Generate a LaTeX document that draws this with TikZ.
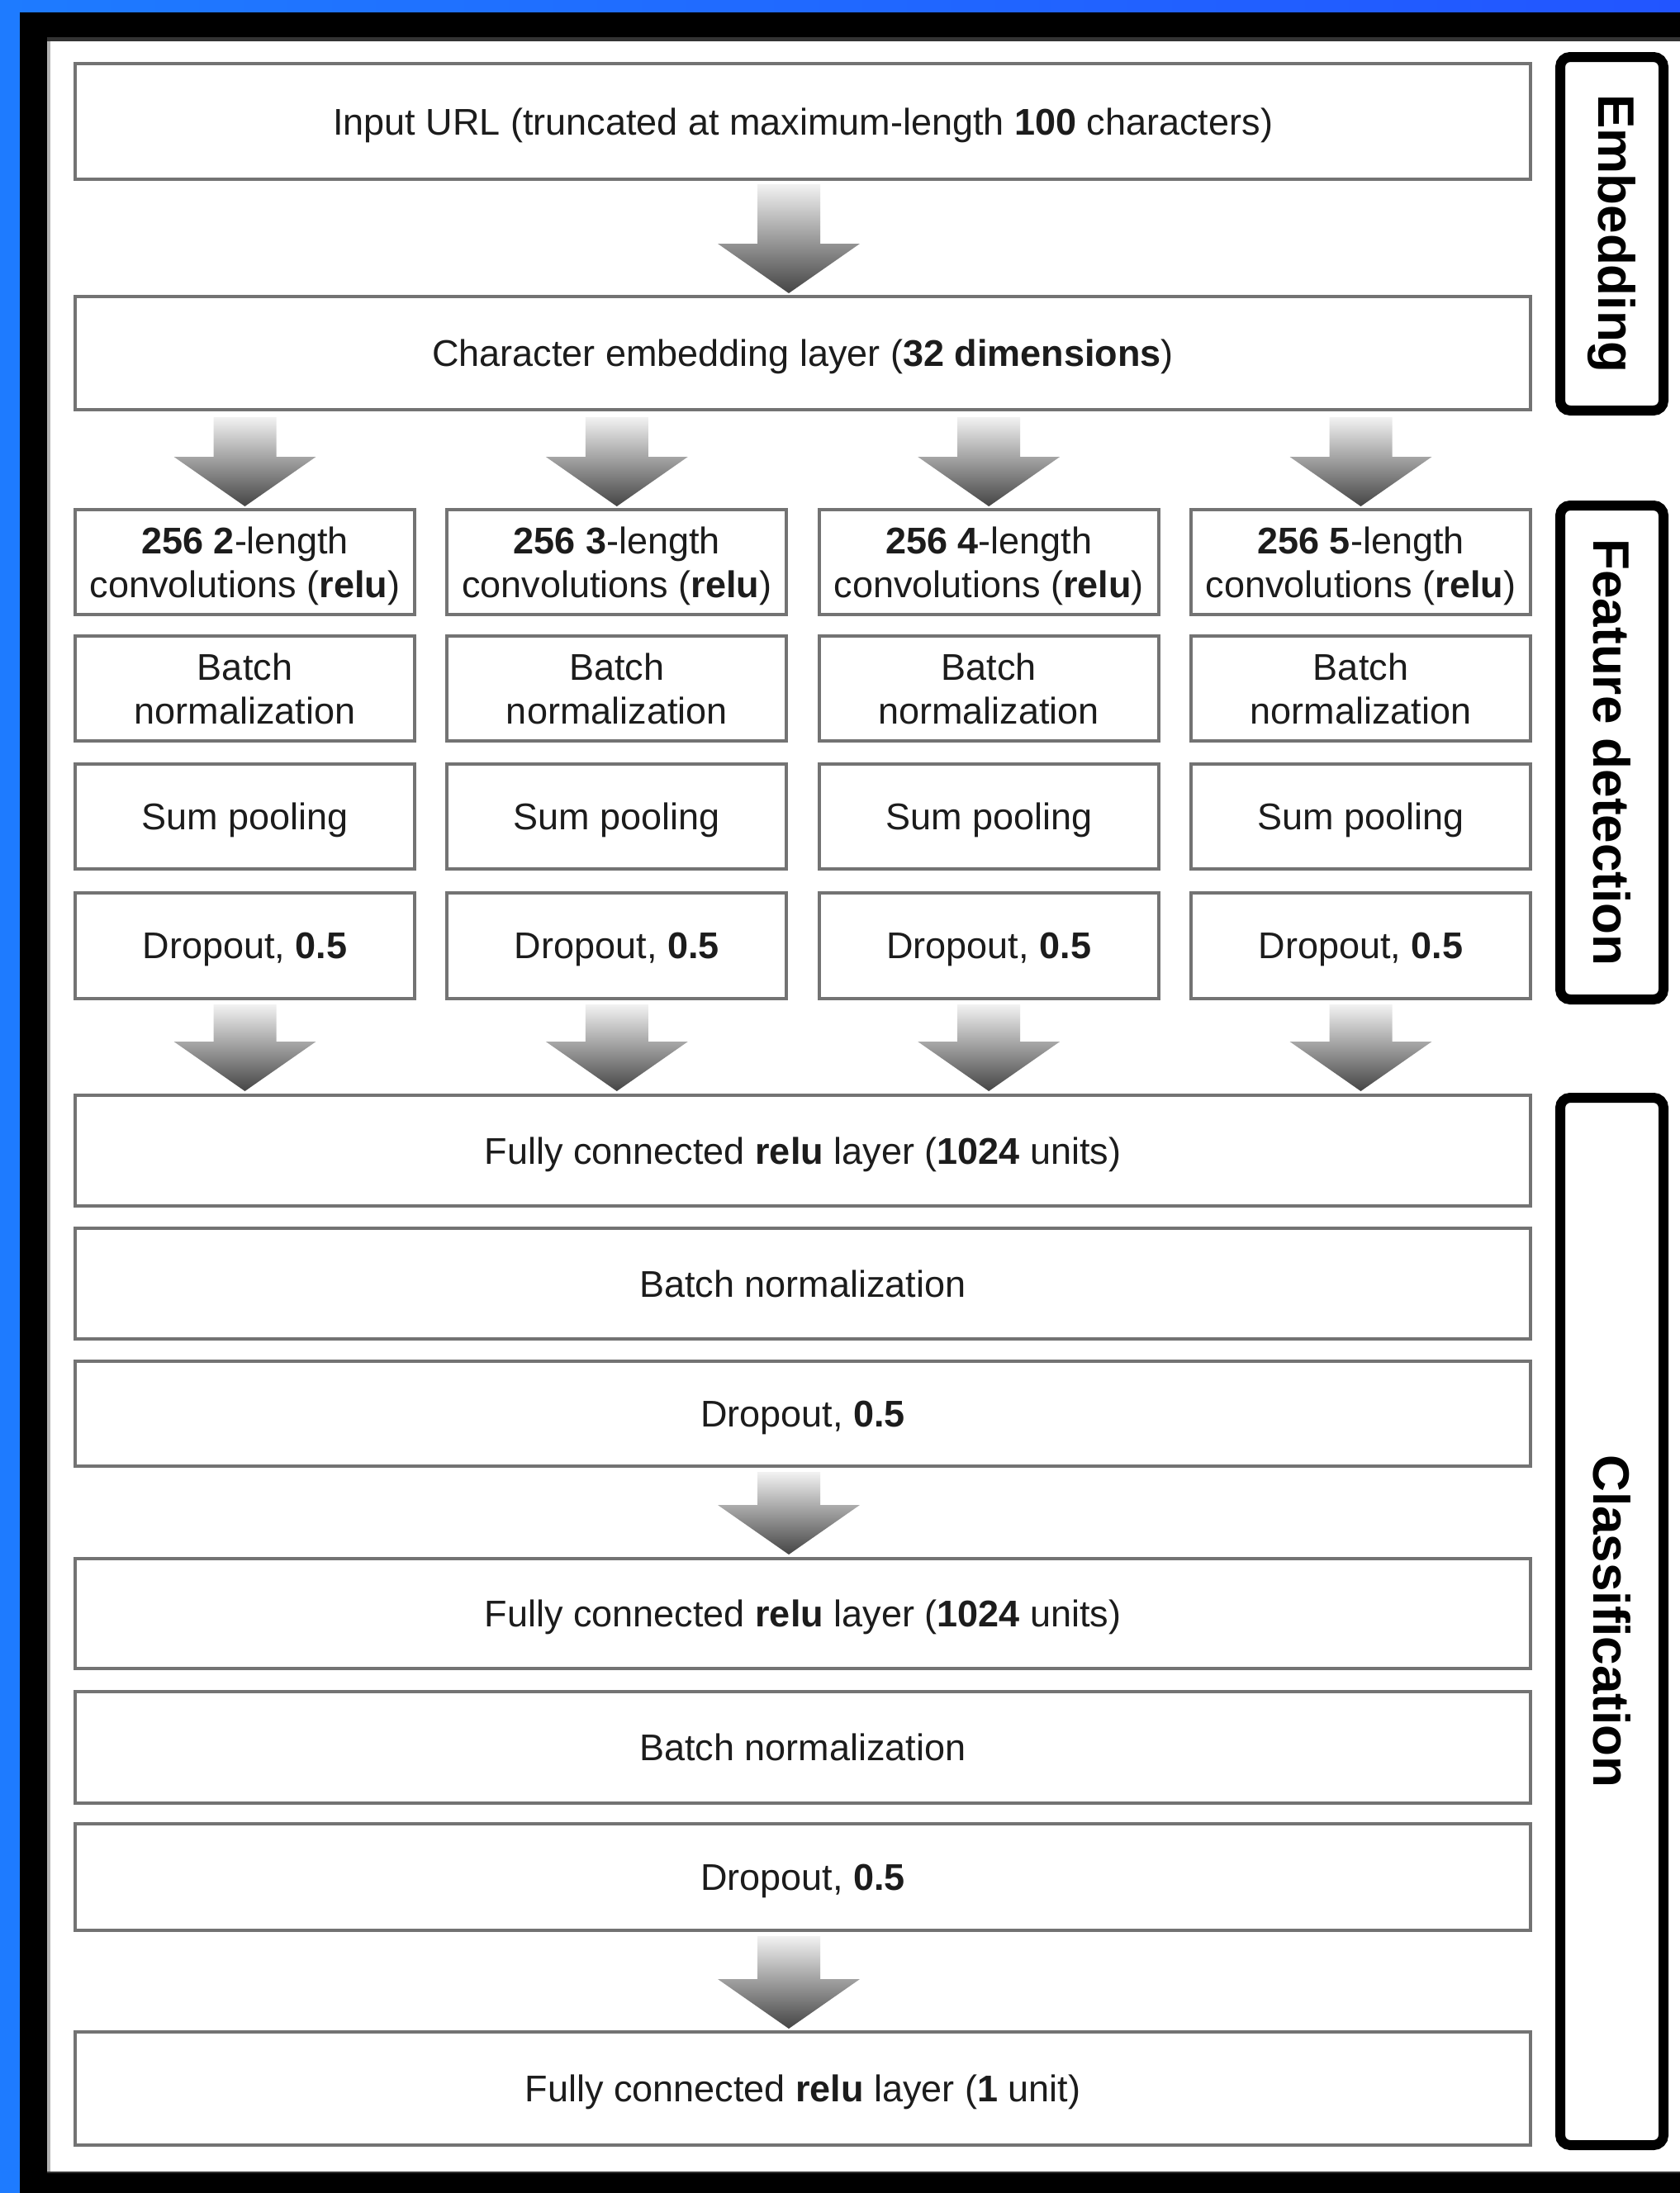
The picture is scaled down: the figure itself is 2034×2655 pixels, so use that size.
\documentclass[tikz,border=0pt]{standalone}
\usepackage{fontspec}
\setmainfont{Liberation Sans}
\usetikzlibrary{calc}

\definecolor{slideblueA}{HTML}{1E7BFF}
\definecolor{slideblueB}{HTML}{2255FF}
\definecolor{paneledge}{HTML}{333333}
\definecolor{boxline}{HTML}{737373}
\definecolor{arrowtop}{HTML}{F2F2F2}
\definecolor{arrowbot}{HTML}{454545}
\definecolor{inktext}{HTML}{1C1C1C}

% shaded block arrow: #1 = top centre of the shaft, #2 = tip
\newcommand\flowarrow[2]{%
  \path #1 coordinate (fa-top) #2 coordinate (fa-tip);
  \shade[top color=arrowtop, bottom color=arrowbot]
    let \p1=(fa-top), \p2=(fa-tip) in
    (\x2-19pt,\y1) -- (\x2+19pt,\y1) -- (\x2+19pt,\y2+30pt) -- (\x2+43pt,\y2+30pt)
    -- (\x2,\y2) -- (\x2-43pt,\y2+30pt) -- (\x2-19pt,\y2+30pt) -- cycle;
}

\tikzset{
  layerbox/.style={draw=boxline, line width=2pt, fill=white, outer sep=0pt,
    inner sep=0pt, align=center, text=inktext, text depth=0pt,
    font=\fontsize{22.5}{26.5}\selectfont},
  widebox/.style={layerbox, minimum width=881pt, minimum height=67pt},
  colbox/.style={layerbox, minimum width=205.5pt, minimum height=63.5pt},
  stagebox/.style={draw=black, line width=6pt, rounded corners=6pt, rotate=-90,
    minimum height=62.5pt, inner sep=0pt, outer sep=0pt, text=black,
    font=\fontsize{31}{36}\selectfont\bfseries},
}

\begin{document}
\begin{tikzpicture}[x=0.5pt, y=-0.5pt]
  \useasboundingbox (0,0) rectangle (2034,2655);

  % slide background, black frame and white panel
  \shade[left color=slideblueA, right color=slideblueB] (0,0) rectangle (2034,2655);
  \fill[black] (24,15) rectangle (2034,2655);
  \fill[paneledge] (57,45) rectangle (2034,2631);
  \fill[gray!60] (57,50) rectangle (61,2629);
  \fill[white] (61,50) rectangle (2034,2629);

  % embedding
  \node[widebox, minimum height=70pt] (inp) at (972,147)
    {Input URL (truncated at maximum-length \textbf{100} characters)};
  \node[widebox, minimum height=68.5pt] (emb) at (972,427.5)
    {Character embedding layer (\textbf{32 dimensions})};

  % four convolution branches
  \foreach \k/\cx in {2/296.5, 3/746.8, 4/1197.2, 5/1647.5} {
    \node[colbox] (conv\k) at (\cx,680.5)
      {\textbf{256 \k}-length\\convolutions (\textbf{relu})};
    \node[colbox] (bn\k) at (\cx,833.5) {Batch\\normalization};
    \node[colbox] (sp\k) at (\cx,988.5) {Sum pooling};
    \node[colbox, minimum height=64pt] (do\k) at (\cx,1145) {Dropout, \textbf{0.5}};
  }

  % classification
  \node[widebox] (fcA) at (972,1393)
    {Fully connected \textbf{relu} layer (\textbf{1024} units)};
  \node[widebox] (bnA) at (972,1554) {Batch normalization};
  \node[widebox, minimum height=63.5pt] (doA) at (972,1711.5) {Dropout, \textbf{0.5}};
  \node[widebox, minimum height=66.5pt] (fcB) at (972,1953.5)
    {Fully connected \textbf{relu} layer (\textbf{1024} units)};
  \node[widebox, minimum height=67.5pt] (bnB) at (972,2115.5) {Batch normalization};
  \node[widebox, minimum height=64.5pt] (doB) at (972,2272.5) {Dropout, \textbf{0.5}};
  \node[widebox, minimum height=68.5pt] (fcC) at (972,2528.5)
    {Fully connected \textbf{relu} layer (\textbf{1} unit)};

  % stage labels
  \node[stagebox, minimum width=214pt] (stEmb) at (1951.5,283) {Embedding};
  \node[stagebox, minimum width=299pt] (stFeat) at (1951.5,911) {Feature detection};
  \node[stagebox, minimum width=634pt] (stCls) at (1951.5,1963) {Classification};

  % block arrows
  \coordinate (mid) at (955,0);
  \flowarrow{($(mid |- inp.south)+(0,6)$)}{($(mid |- emb.north)+(0,-4)$)}
  \foreach \k in {2,3,4,5} {
    \flowarrow{($(conv\k.north |- emb.south)+(0,9)$)}{($(conv\k.north)+(0,-4)$)}
    \flowarrow{($(do\k.south)+(0,7)$)}{($(do\k.south |- fcA.north)+(0,-5)$)}
  }
  \flowarrow{($(mid |- doA.south)+(0,7)$)}{($(mid |- fcB.north)+(0,-5)$)}
  \flowarrow{($(mid |- doB.south)+(0,7)$)}{($(mid |- fcC.north)+(0,-4)$)}
\end{tikzpicture}
\end{document}
